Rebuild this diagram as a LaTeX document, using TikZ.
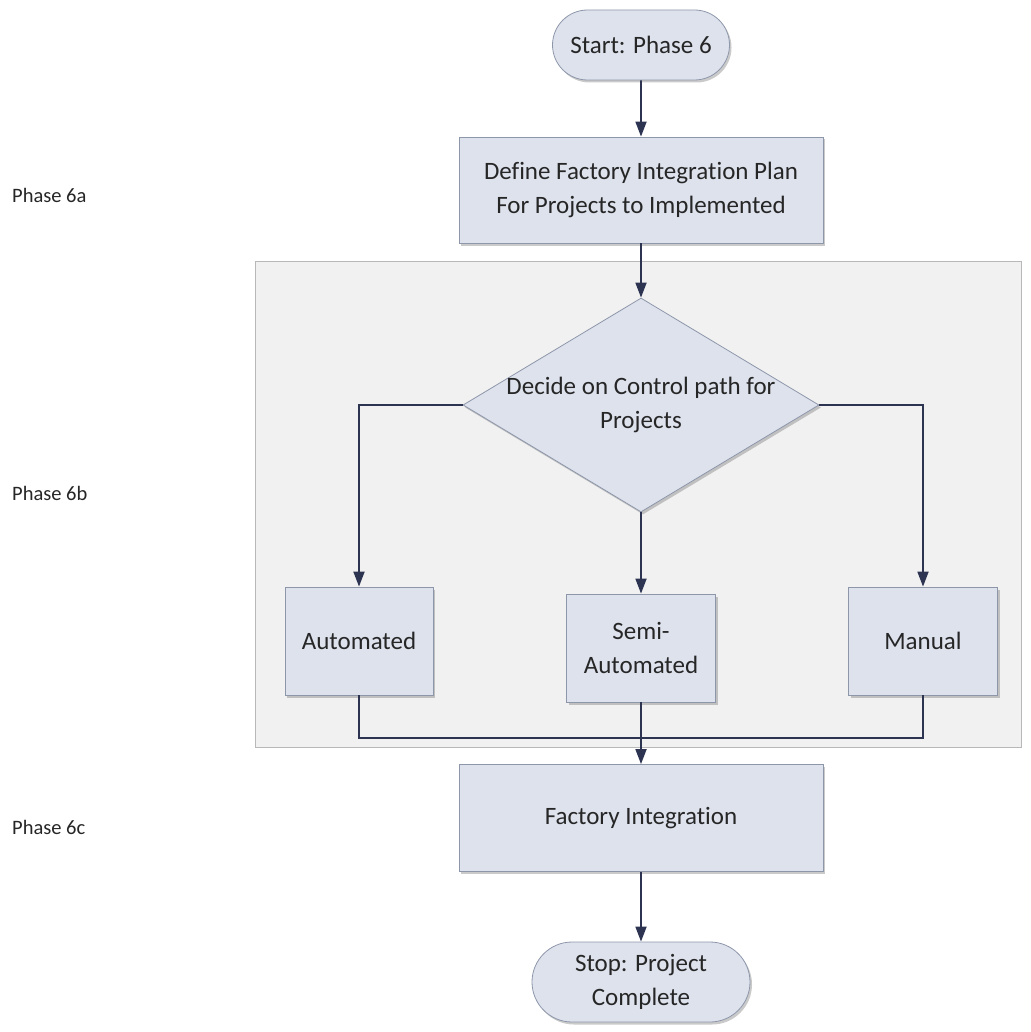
\documentclass[tikz,border=0pt]{standalone}
\usepackage{fontspec}
\setmainfont{Carlito}[Ligatures=NoCommon]
\usetikzlibrary{shapes.geometric,shapes.misc,arrows.meta,shadows}

\definecolor{boxfill}{HTML}{DDE2ED}
\definecolor{boxline}{HTML}{8E97AA}
\definecolor{panelfill}{HTML}{F1F1F1}
\definecolor{panelline}{HTML}{B8B8B8}
\definecolor{flow}{HTML}{2C3452}
\definecolor{ink}{HTML}{262626}

\tikzset{
  boxtext/.style={text=ink, font=\fontsize{25}{34}\selectfont, align=center},
  base/.style={fill=boxfill, draw=boxline, line width=0.8pt, boxtext, inner sep=0pt,
    drop shadow={shadow xshift=2pt, shadow yshift=-2.5pt, opacity=0.35, fill=black!60}},
  procbox/.style={base, rectangle},
  termbox/.style={base, rounded rectangle},
  decbox/.style={base, diamond},
  flowline/.style={draw=flow, line width=1.8pt},
  flowarrow/.style={flowline, -{Triangle[length=15pt,width=11pt]}},
  phaselabel/.style={anchor=west, text=ink, font=\fontsize{20.5}{24}\selectfont, inner sep=0pt},
}

\begin{document}
\begin{tikzpicture}[x=1pt,y=-1pt]
  \useasboundingbox (0,0) rectangle (1030,1032);

  % background panel of phase 6b
  \node[draw=panelline, fill=panelfill, line width=0.8pt, minimum width=766pt,
        minimum height=486pt, inner sep=0pt] (panel) at (638,504) {};

  % flow nodes
  \node[termbox, minimum width=177pt, minimum height=70pt] (start) at (641,45) {Start: Phase 6};
  \node[procbox, minimum width=364pt, minimum height=106pt] (plan) at (641,190)
    {Define Factory Integration Plan\\For Projects to Implemented};
  \node[decbox, minimum width=356pt, minimum height=214pt,
        label={[boxtext]center:Decide on Control path for\\Projects}] (decide) at (641,405) {};
  \node[procbox, minimum width=148pt, minimum height=108pt] (auto) at (359,641) {Automated};
  \node[procbox, minimum width=149pt, minimum height=108pt] (semi) at (641,648) {Semi-\\Automated};
  \node[procbox, minimum width=149pt, minimum height=108pt] (manual) at (923,641) {Manual};
  \node[procbox, minimum width=364pt, minimum height=107pt] (factory) at (641,818) {Factory Integration};
  \node[termbox, minimum width=218pt, minimum height=80pt] (stop) at (641,982)
    {Stop: Project\\Complete};

  % phase labels
  \node[phaselabel] (pa) at (12,195) {Phase 6a};
  \node[phaselabel] (pb) at (12,493) {Phase 6b};
  \node[phaselabel] (pc) at (12,827) {Phase 6c};

  % connectors
  \coordinate (merge) at (641,738);
  \draw[flowarrow] (start) -- (plan);
  \draw[flowarrow] (plan) -- (decide);
  \draw[flowarrow] (decide.west) -| (auto.north);
  \draw[flowarrow] (decide.east) -| (manual.north);
  \draw[flowarrow] (decide.south) -- (semi.north);
  \draw[flowline] (auto.south) |- (manual.south |- merge) -- (manual.south);
  \draw[flowarrow] (semi.south) -- (factory.north);
  \draw[flowarrow] (factory) -- (stop);
\end{tikzpicture}
\end{document}
